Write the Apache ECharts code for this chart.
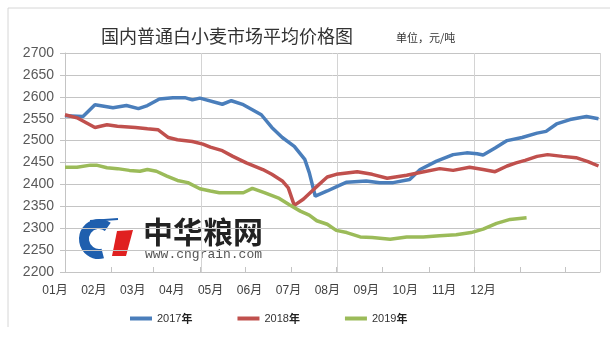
<!DOCTYPE html>
<html>
<head>
<meta charset="utf-8">
<script src="https://cdn.jsdelivr.net/npm/echarts@6/dist/echarts.min.js"></script>
<style>html,body{margin:0;padding:0;background:#fff}#c{width:610px;height:342px}</style>
</head>
<body>
<div id="c"></div>
<script>
// Day-of-year (x) and price (y) readings
const monthLabels = ['01月','02月','03月','04月','05月','06月','07月','08月','09月','10月','11月','12月'];
const monthStarts = [31,59,90,120,151,181,212,243,273,304,334];
const yTicks = [2200,2700,50];

const days2017 = [0,12,20,32,41,49,55,63,72,80,85,90,105,111,119,131,138,145,153,160,163,167,175,182,188,201,210,219,230,237,248,259,268,275,279,287,295,305,315,321,328,337,348,356];
const vals2017 = [2557,2555,2582,2575,2580,2573,2580,2595,2598,2598,2593,2597,2583,2591,2582,2559,2530,2507,2487,2457,2427,2373,2385,2396,2405,2408,2404,2404,2411,2434,2453,2468,2472,2470,2467,2483,2500,2507,2517,2521,2538,2548,2555,2550];

const days2018 = [0,8,20,28,35,47,55,62,69,75,85,92,97,105,112,121,132,138,145,149,153,159,167,175,181,195,205,215,228,237,250,259,270,279,287,295,301,307,315,322,332,341,349,356];
const vals2018 = [2559,2552,2530,2536,2533,2530,2527,2525,2507,2502,2498,2492,2485,2477,2464,2449,2434,2423,2408,2392,2352,2366,2392,2417,2423,2429,2423,2414,2421,2427,2436,2432,2439,2434,2429,2442,2449,2455,2464,2468,2464,2461,2452,2442];

const days2019 = [0,8,17,21,28,35,43,50,55,61,68,75,82,90,97,103,112,119,125,133,143,150,157,163,168,175,181,188,197,205,217,228,239,250,261,271,279,288,297,308];
const vals2019 = [2439,2439,2444,2444,2438,2436,2432,2430,2434,2430,2419,2409,2404,2390,2385,2381,2381,2381,2391,2381,2368,2353,2339,2330,2317,2309,2295,2290,2280,2279,2275,2280,2280,2283,2285,2290,2298,2311,2320,2324];

const seriesNames = ['2017年','2018年','2019年'];
const seriesColors = ['#4a7ebb','#c0504d','#9bbb59'];

const pairs = (d, v) => d.map((x, i) => [x, v[i]]);
const allData = [pairs(days2017, vals2017), pairs(days2018, vals2018), pairs(days2019, vals2019)];

const gridColor = '#c4c4c4';
const chart = echarts.init(document.getElementById('c'), null, {renderer: 'canvas'});
chart.setOption({
  animation: false,
  title: [
    {text: '国内普通白小麦市场平均价格图', left: 101, top: 27, padding: 0,
     textStyle: {fontFamily: 'Noto Sans CJK SC', fontSize: 18, fontWeight: 'normal', color: '#333'}},
    {text: '单位，元/吨', left: 396, top: 32, padding: 0,
     textStyle: {fontFamily: 'Noto Sans CJK SC', fontSize: 11, fontWeight: 'normal', color: '#333'}}
  ],
  legend: {
    left: 130, top: 313, padding: 0, itemWidth: 22, itemHeight: 4, itemGap: 45, icon: 'rect',
    data: seriesNames,
    formatter: n => '{n|' + n.slice(0, -1) + '}{b|年}',
    textStyle: {rich: {
      n: {fontFamily: 'Liberation Sans', fontSize: 11, color: '#333'},
      b: {fontFamily: 'Noto Sans CJK SC', fontSize: 11, fontWeight: 'bold', color: '#222'}
    }}
  },
  grid: [
    {left: 65, right: 10, top: 53, bottom: 70},
    {left: 35.5, width: 467, top: 53, height: 219}
  ],
  xAxis: [
    {type: 'value', gridIndex: 0, min: 0, max: 357,
     axisLine: {show: true, lineStyle: {color: gridColor}},
     axisTick: {show: true, inside: true, length: 5, customValues: monthStarts, lineStyle: {color: gridColor}},
     axisLabel: {show: false}, splitLine: {show: false}},
    {type: 'value', gridIndex: 0, min: 0, max: 357, interval: 91, position: 'bottom',
     axisLine: {show: false}, axisTick: {show: false}, axisLabel: {show: false},
     splitLine: {show: true, lineStyle: {color: '#d4d4d4'}}},
    {type: 'category', gridIndex: 1, data: monthLabels, boundaryGap: true,
     axisLine: {show: false}, axisTick: {show: false}, splitLine: {show: false},
     axisLabel: {margin: 13, fontFamily: 'Liberation Sans, Noto Sans CJK SC', fontSize: 12, color: '#404040'}}
  ],
  yAxis: [
    {type: 'value', gridIndex: 0, min: yTicks[0], max: yTicks[1], interval: yTicks[2],
     axisLine: {show: true, lineStyle: {color: gridColor}},
     axisTick: {show: true, inside: false, length: 5, lineStyle: {color: gridColor}},
     axisLabel: {margin: 11, fontFamily: 'Liberation Sans', fontSize: 14, color: '#595959', formatter: v => String(v)},
     splitLine: {show: true, lineStyle: {color: gridColor}}},
    {type: 'value', gridIndex: 1, show: false}
  ],
  graphic: [
    {type: 'polyline', silent: true, shape: {points: [[8, 327], [8, 8], [610, 8]]},
     style: {stroke: '#d6d6d6', lineWidth: 1, fill: null}},
    {type: 'arc', silent: true, z: 0,
     shape: {cx: 99, cy: 239, r: 15, startAngle: -Math.PI * 0.3, endAngle: Math.PI * 0.42, clockwise: false},
     style: {stroke: '#1f5fae', lineWidth: 10, fill: null}},
    {type: 'polyline', silent: true, z: 0, shape: {points: [[90, 221], [118, 219]]},
     style: {stroke: '#1f5fae', lineWidth: 2, fill: null}},
    {type: 'polygon', silent: true, z: 0,
     shape: {points: [[117, 231], [133, 230], [126, 256], [112, 256]]},
     style: {fill: '#e02020'}},
    {type: 'text', silent: true, z: 0, x: 143, y: 217,
     style: {text: '中华粮网', font: 'bold 30px "Noto Sans CJK SC"', fill: '#222'}},
    {type: 'text', silent: true, z: 0, x: 145, y: 248,
     style: {text: 'www.cngrain.com', font: '13px "Liberation Mono"', fill: '#555'}}
  ],
  series: allData.map((d, i) => ({
    name: seriesNames[i], type: 'line', xAxisIndex: 0, yAxisIndex: 0,
    data: d, showSymbol: false, symbol: 'none', smooth: false,
    lineStyle: {width: 3.5, color: seriesColors[i]}, itemStyle: {color: seriesColors[i]}
  }))
});
</script>
</body>
</html>
